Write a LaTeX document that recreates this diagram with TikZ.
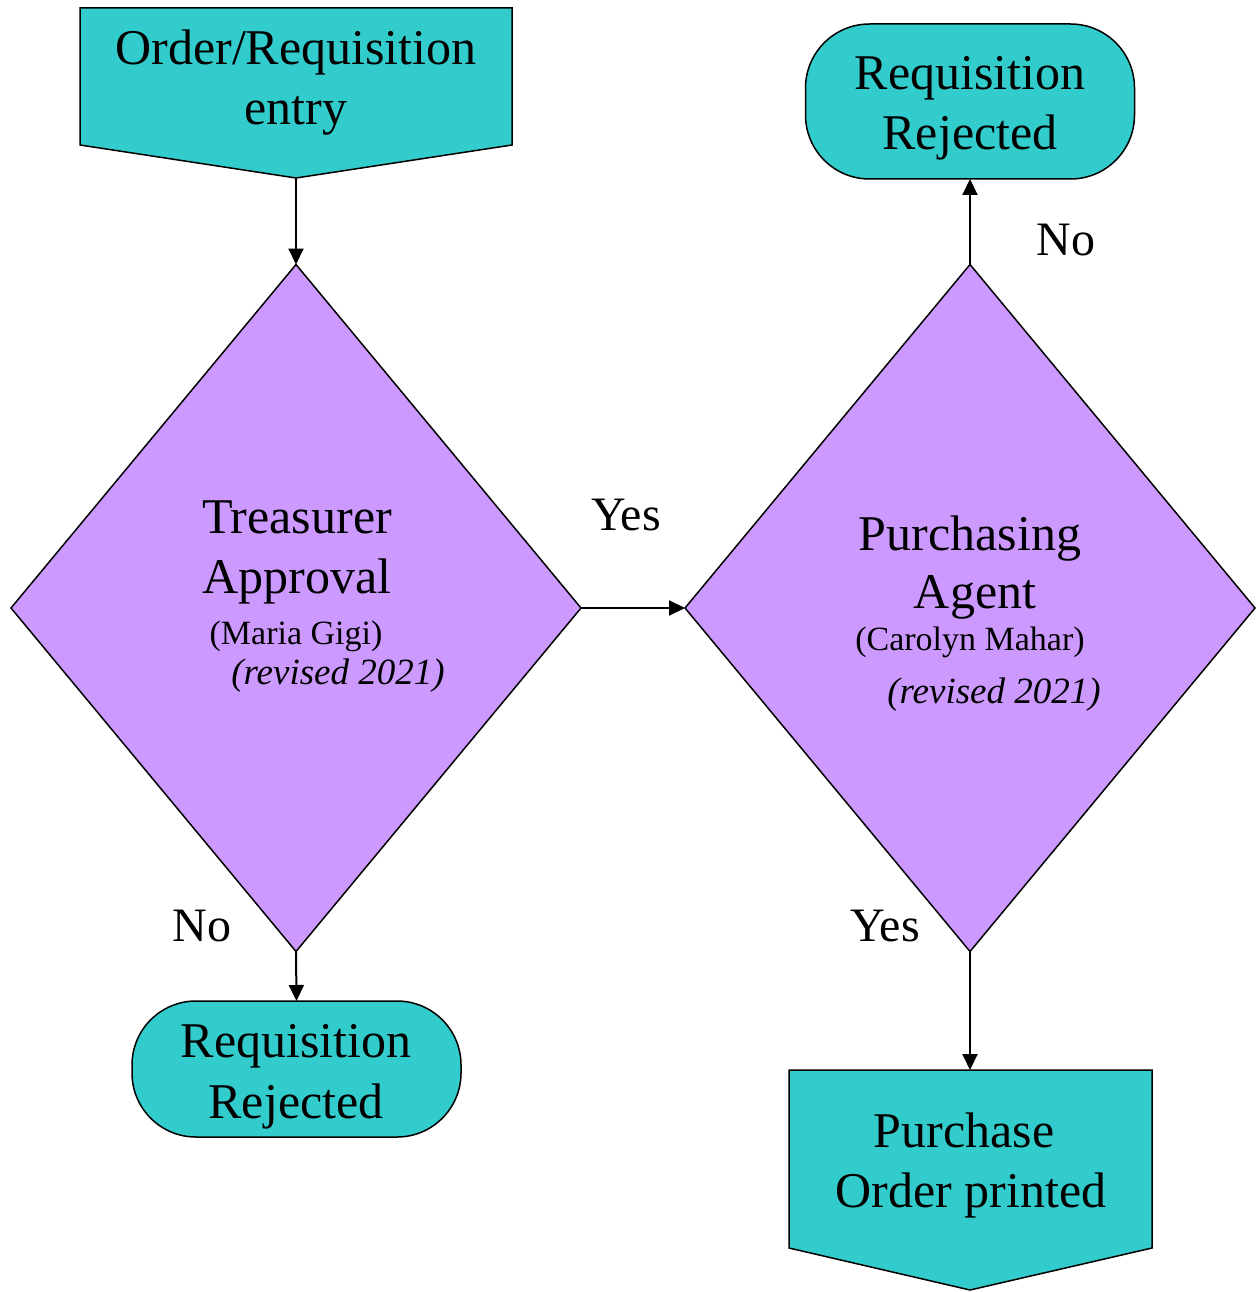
\documentclass[tikz,border=0pt]{standalone}
\usepackage{fontspec}
\setmainfont{Liberation Serif}
\usetikzlibrary{shapes.geometric,arrows.meta}
\definecolor{tealbox}{HTML}{33CCCC}
\definecolor{lilac}{HTML}{CC99FF}
\begin{document}
\begin{tikzpicture}[x=1pt,y=-1pt,
  border/.style={draw=black,line width=1.5pt},
  offpage/.style={border,fill=tealbox,line join=miter},
  terminal/.style={border,fill=tealbox,rectangle,rounded corners=64pt,inner sep=0pt,outer sep=0pt},
  decision/.style={border,fill=lilac,diamond,inner sep=0pt,outer sep=0pt,minimum width=570pt,minimum height=687pt},
  big/.style={font=\fontsize{50}{60}\selectfont,inner sep=0pt,anchor=base},
  lbl/.style={font=\fontsize{48}{58}\selectfont,inner sep=0pt,anchor=base},
  small/.style={font=\fontsize{34}{40}\selectfont,inner sep=0pt,anchor=base},
  smallit/.style={font=\fontsize{37}{42}\selectfont\itshape,inner sep=0pt,anchor=base},
  arr/.style={line width=2pt,-{Triangle[length=16pt,width=15pt]}}]
\useasboundingbox (0,0) rectangle (1258,1292);

% entry (off-page connector shape)
\draw[offpage] (80,8) -- (512,8) -- (512,145) -- (296,178) -- (80,145) -- cycle;
\coordinate (entrytip) at (296,178);
\node[big] (entry1) at (296,65) {Order/Requisition};
\node[big] (entry2) at (296,125) {entry};

% treasurer decision
\node[decision] (treas) at (296,608) {};
\node[big] (treas1) at (297,533) {Treasurer};
\node[big] (treas2) at (297,593) {Approval};
\node[small] (treas3) at (296,644) {(Maria Gigi)};
\node[smallit] (treas4) at (338,684) {(revised 2021)};

% purchasing decision
\node[decision] (purch) at (970,608) {};
\node[big] (purch1) at (970,550) {Purchasing};
\node[big] (purch2) at (975,608) {Agent};
\node[small] (purch3) at (970,650) {(Carolyn Mahar)};
\node[smallit] (purch4) at (994,703) {(revised 2021)};

% rejected terminals
\node[terminal,minimum width=329pt,minimum height=155pt] (rejR) at (970,101.5) {};
\node[big] (rejR1) at (970,90) {Requisition};
\node[big] (rejR2) at (970,150) {Rejected};

\node[terminal,minimum width=329pt,minimum height=136pt] (rejL) at (296.5,1069) {};
\node[big] (rejL1) at (296,1057) {Requisition};
\node[big] (rejL2) at (296,1118) {Rejected};

% purchase order printed
\draw[offpage] (789,1070) -- (1152,1070) -- (1152,1248) -- (970,1290) -- (789,1248) -- cycle;
\coordinate (potop) at (970,1070);
\node[big] (po1) at (964,1147) {Purchase};
\node[big] (po2) at (971,1207) {Order printed};

% connectors
\draw[arr] (entrytip) -- (treas.north);
\draw[arr] (treas.east) -- (purch.west);
\draw[arr] (treas.south) -- (rejL.north);
\draw[arr] (purch.north) -- (rejR.south);
\draw[arr] (purch.south) -- (potop);

% labels
\node[lbl] (yes1) at (626,530) {Yes};
\node[lbl] (no1) at (1066,255) {No};
\node[lbl] (no2) at (202,941) {No};
\node[lbl] (yes2) at (885,941) {Yes};
\end{tikzpicture}
\end{document}
